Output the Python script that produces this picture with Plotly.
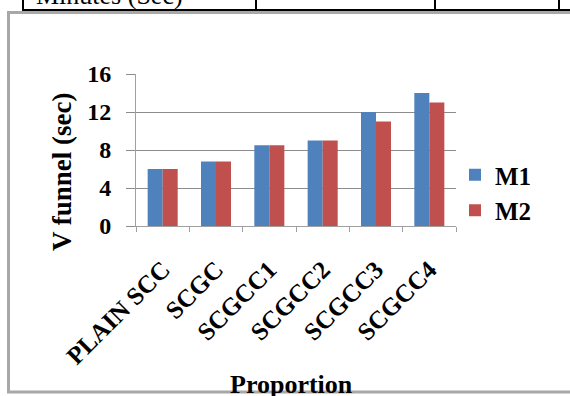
import plotly.graph_objects as go

# V-funnel flow times for each mix proportion
categories = ["PLAIN SCC", "SCGC", "SCGCC1", "SCGCC2", "SCGCC3", "SCGCC4"]
m1_values = [6, 6.8, 8.5, 9, 12, 14]
m2_values = [6, 6.8, 8.5, 9, 11, 13]
y_ticks = [0, 4, 8, 12, 16]

W, H = 570, 396
L, R, T, B = 136, 456, 74, 226  # plot area in pixels


def px(x):
    return (x - L) / (R - L)


def py(y):
    return (B - y) / (B - T)


SERIF = "Liberation Serif"

fig = go.Figure()
fig.add_trace(go.Bar(name="<b>M1</b>", x=categories, y=m1_values, marker_color="#4F81BD",
                     marker_line_width=0))
fig.add_trace(go.Bar(name="<b>M2</b>", x=categories, y=m2_values, marker_color="#C0504D",
                     marker_line_width=0))

shapes = [
    # outer chart frame
    dict(type="rect", xref="paper", yref="paper", x0=px(8.5), x1=px(585), y0=py(392),
         y1=py(12.5), line=dict(color="#a8a8a8", width=3), layer="below"),
    # table rule above the chart
    dict(type="line", xref="paper", yref="paper", x0=px(22), x1=px(575), y0=py(10),
         y1=py(10), line=dict(color="black", width=2)),
]
for xv in [23, 256, 435, 559]:
    shapes.append(dict(type="line", xref="paper", yref="paper", x0=px(xv), x1=px(xv),
                       y0=py(-5), y1=py(10), line=dict(color="black", width=2)))

annotations = [
    dict(text="Minutes (Sec)", xref="paper", yref="paper", x=px(34), y=py(12),
         xanchor="left", yanchor="bottom", showarrow=False,
         font=dict(family=SERIF, size=26, color="black")),
    dict(text="<b>V funnel (sec)</b>", xref="paper", yref="paper", x=px(62), y=py(172),
         xanchor="center", yanchor="middle", textangle=-90, showarrow=False,
         font=dict(family=SERIF, size=27, color="black")),
    dict(text="<b>Proportion</b>", xref="paper", yref="paper", x=px(291), y=py(384),
         xanchor="center", yanchor="middle", showarrow=False,
         font=dict(family=SERIF, size=26, color="black")),
]

fig.update_layout(
    width=W, height=H,
    margin=dict(l=L, r=W - R, t=T, b=H - B, autoexpand=False),
    paper_bgcolor="white", plot_bgcolor="white",
    barmode="group", bargap=0.437, bargroupgap=0,
    shapes=shapes, annotations=annotations,
    legend=dict(x=px(455), y=py(152), xanchor="left", yanchor="top",
                font=dict(family=SERIF, size=25, color="black"),
                bgcolor="rgba(0,0,0,0)", itemwidth=30, tracegroupgap=0),
    xaxis=dict(tickangle=-45, tickson="boundaries", ticks="outside", ticklen=5,
               tickcolor="#a0a0a0", showline=True, linecolor="#a0a0a0", linewidth=1,
               showgrid=False, ticklabelstandoff=18,
               tickfont=dict(family=SERIF, size=25, color="black", weight="bold")),
    yaxis=dict(range=[0, 16], tickvals=y_ticks, ticks="outside", ticklen=9,
               tickcolor="#8c8c8c", showline=True, linecolor="#a0a0a0", linewidth=1,
               showgrid=True, gridcolor="#8c8c8c", gridwidth=1, zeroline=False,
               ticklabelstandoff=10,
               tickfont=dict(family=SERIF, size=24, color="black", weight="bold")),
)

fig.write_html("out.html")
